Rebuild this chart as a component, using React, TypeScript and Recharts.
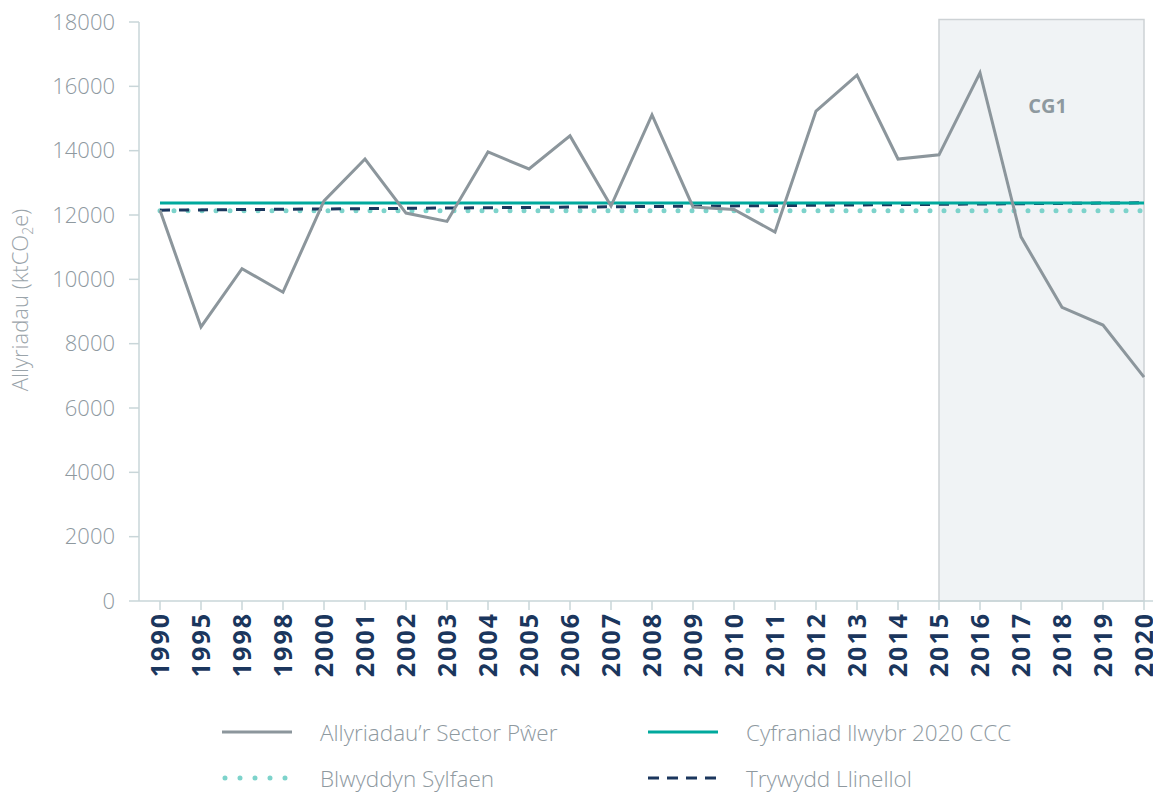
import React from 'react';
import { LineChart, Line, XAxis, YAxis, ReferenceArea } from 'recharts';

const years = ['1990', '1995', '1998', '1998', '2000', '2001', '2002', '2003', '2004', '2005', '2006', '2007', '2008', '2009', '2010', '2011', '2012', '2013', '2014', '2015', '2016', '2017', '2018', '2019', '2020'];
const powerSector = [12150, 8520, 10330, 9600, 12440, 13740, 12060, 11800, 13960, 13430, 14460, 12280, 15110, 12250, 12170, 11470, 15230, 16350, 13740, 13870, 16420, 11320, 9130, 8580, 6960];
const cccPathway = [12370, 12370, 12370, 12370, 12370, 12370, 12370, 12370, 12370, 12370, 12370, 12370, 12370, 12370, 12370, 12370, 12370, 12370, 12370, 12370, 12370, 12370, 12370, 12370, 12370];
const baseYear = [12130, 12130, 12130, 12130, 12130, 12130, 12130, 12130, 12130, 12130, 12130, 12130, 12130, 12130, 12130, 12130, 12130, 12130, 12130, 12130, 12130, 12130, 12130, 12130, 12130];
// trywydd llinellol: straight line between first and last year only
const linearPath: (number | null)[] = [12150, null, null, null, null, null, null, null, null, null, null, null, null, null, null, null, null, null, null, null, null, null, null, null, 12380];
const yTicks = [0, 2000, 4000, 6000, 8000, 10000, 12000, 14000, 16000, 18000];

const data = years.map((y, i) => ({
  key: String(i),
  year: y,
  power: powerSector[i],
  ccc: cccPathway[i],
  base: baseYear[i],
  linear: linearPath[i],
}));

const FONT = '"Open Sans", "Noto Sans", sans-serif';
const GREY_TEXT = '#8e999f';
const NAVY = '#1b365d';
const AXIS = '#c9d6d9';

const YearTick = (props: any) => {
  const { x, payload } = props;
  return (
    <text
      x={x}
      y={612}
      transform={`rotate(-90, ${x}, 612)`}
      textAnchor="end"
      dy="0.36em"
      fill={NAVY}
      fontFamily={FONT}
      fontWeight={700}
      fontSize={25}
      letterSpacing={2}
    >
      {years[Number(payload.value)]}
    </text>
  );
};

const YLabel = () => (
  <text
    x={28}
    y={300}
    transform="rotate(-90, 28, 300)"
    textAnchor="middle"
    fill="#9aa4aa"
    fontFamily={FONT}
    fontWeight={300}
    fontSize={22}
  >
    Allyriadau (ktCO<tspan fontSize={14} dy={5}>2</tspan><tspan dy={-5}>e)</tspan>
  </text>
);

const CgLabel = (props: any) => {
  const { viewBox } = props;
  return (
    <text
      x={viewBox.x + viewBox.width / 2 + 6}
      y={viewBox.y + 94}
      textAnchor="middle"
      fill={GREY_TEXT}
      fontFamily={FONT}
      fontWeight={700}
      fontSize={20}
    >
      CG1
    </text>
  );
};

const legendItems = [
  { label: 'Allyriadau’r Sector Pŵer', color: '#8c969c', dash: undefined, width: 3, cap: 'butt', left: 222, top: 732 },
  { label: 'Cyfraniad llwybr 2020 CCC', color: '#00a99d', dash: undefined, width: 3, cap: 'butt', left: 648, top: 732 },
  { label: 'Blwyddyn Sylfaen', color: '#7dd3cb', dash: '0 15', width: 5, cap: 'round', left: 222, top: 778 },
  { label: 'Trywydd Llinellol', color: NAVY, dash: '11 8', width: 3, cap: 'butt', left: 648, top: 778 },
];

export default function App() {
  return (
    <div style={{ position: 'absolute', left: 0, top: 0, width: 1153, height: 793, background: '#fff', fontFamily: FONT }}>
      <LineChart width={1153} height={700} data={data} margin={{ top: 22, right: 0, left: 0, bottom: 0 }}>
        <ReferenceArea
          x1="19"
          x2="24"
          y1={0}
          y2={18080}
          ifOverflow="visible"
          fill="#f0f3f5"
          fillOpacity={1}
          stroke="#cdd2d5"
          strokeWidth={1.5}
          label={<CgLabel />}
        />
        <XAxis
          dataKey="key"
          interval={0}
          height={99}
          padding={{ left: 21, right: 9 }}
          stroke={AXIS}
          strokeWidth={1.5}
          tickSize={9}
          tick={<YearTick />}
        />
        <YAxis
          width={139}
          domain={[0, 18000]}
          ticks={yTicks}
          interval={0}
          stroke={AXIS}
          strokeWidth={1.5}
          tickSize={10}
          tickMargin={14}
          tick={{ fill: GREY_TEXT, fontSize: 22, fontFamily: FONT, fontWeight: 300 }}
          label={<YLabel />}
        />
        <Line dataKey="base" stroke="#7dd3cb" strokeWidth={5} strokeDasharray="0 14" strokeLinecap="round" dot={false} isAnimationActive={false} />
        <Line dataKey="linear" stroke={NAVY} strokeWidth={3} strokeDasharray="10 9" connectNulls dot={false} isAnimationActive={false} />
        <Line dataKey="ccc" stroke="#00a99d" strokeWidth={3} dot={false} isAnimationActive={false} />
        <Line dataKey="power" type="linear" stroke="#8c969c" strokeWidth={3} dot={false} isAnimationActive={false} />
      </LineChart>
      {legendItems.map((it) => (
        <div key={it.label} style={{ position: 'absolute', left: it.left, top: it.top - 15, height: 30, display: 'flex', alignItems: 'center' }}>
          <svg width={72} height={10} style={{ display: 'block' }}>
            <line x1={it.cap === 'round' ? 3 : 0} y1={5} x2={70} y2={5} stroke={it.color} strokeWidth={it.width} strokeDasharray={it.dash} strokeLinecap={it.cap as any} />
          </svg>
          <span style={{ marginLeft: 26, fontSize: 22.5, fontWeight: 300, color: GREY_TEXT, whiteSpace: 'nowrap' }}>{it.label}</span>
        </div>
      ))}
    </div>
  );
}
